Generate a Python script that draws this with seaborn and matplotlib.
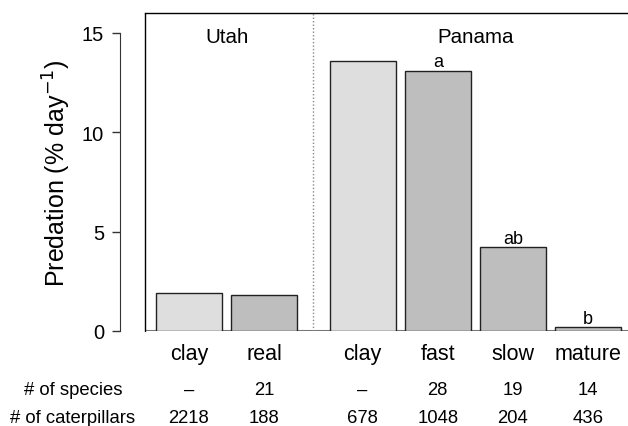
import matplotlib
matplotlib.use("Agg")
import matplotlib.pyplot as plt
import seaborn as sns
import pandas as pd
import numpy as np

# Values
sites = ["Utah", "Utah", "Panama", "Panama", "Panama", "Panama"]
treatments = ["clay", "real", "clay", "fast", "slow", "mature"]
predation = [1.91, 1.80, 13.6, 13.1, 4.21, 0.20]
letters = ["", "", "", "a", "ab", "b"]
n_species = ["\u2013", "21", "\u2013", "28", "19", "14"]
n_caterpillars = ["2218", "188", "678", "1048", "204", "436"]

# bar positions: unit spacing within a site, a wider gap between sites
group_gap = 0.31
pos = []
x = 0.0
for i, s in enumerate(sites):
    if i > 0:
        x += 1.0 + (group_gap if s != sites[i - 1] else 0.0)
    pos.append(x)

df = pd.DataFrame({"pos": pos, "site": sites, "treatment": treatments, "predation": predation})
df["kind"] = np.where(df["treatment"] == "clay", "clay", "real")

sns.set_style("white")
plt.rcParams["font.family"] = ["Liberation Sans", "DejaVu Sans"]
plt.rcParams["text.color"] = "black"
plt.rcParams["axes.labelcolor"] = "black"
plt.rcParams["xtick.color"] = "black"
plt.rcParams["ytick.color"] = "black"

fig = plt.figure(figsize=(6.28, 4.27), dpi=100)
ax = fig.add_axes([145 / 628, 95 / 427, 1 - 145 / 628, 318 / 427])

sns.barplot(data=df, x="pos", y="predation", hue="kind", native_scale=True,
            palette={"clay": "#dedede", "real": "#bebebe"}, width=0.88, dodge=False,
            edgecolor="#222222", linewidth=1.0, legend=False, ax=ax)

ax.set_xlim(pos[0] - 0.585, pos[0] + 5.84)
ax.set_ylim(0, 16.0)

# y axis, detached from the box like base R
ax.spines["left"].set_position(("outward", 18))
ax.spines["left"].set_bounds(0, 15)
ax.spines["left"].set_color("#333333")
ax.spines["right"].set_visible(False)
ax.spines["bottom"].set_visible(False)
ax.spines["top"].set_color("black")
ax.spines["top"].set_linewidth(1.0)
ax.set_yticks([0, 5, 10, 15])
ax.tick_params(axis="y", left=True, length=6, width=1, color="#333333", pad=5.5, labelsize=14.5)
ax.set_ylabel("Predation (% day$^{-1}$)", fontsize=18, labelpad=6)

# box edge, zero line and site divider
ax.axvline(ax.get_xlim()[0], color="black", lw=1.0, clip_on=False)
ax.axhline(0, color="#777777", lw=1.5, zorder=0.5)
divider = (pos[1] + pos[2]) / 2
ax.axvline(divider, color="#888888", lw=1.0, ls=(0, (1, 1.5)))

ax.set_xticks(pos, treatments)
ax.tick_params(axis="x", bottom=False, length=0, pad=9, labelsize=15.5)
ax.set_xlabel("")

# site titles
for site in ["Utah", "Panama"]:
    xs = [p for p, s in zip(pos, sites) if s == site]
    ax.text(np.mean(xs), 14.55, site, ha="center", va="baseline", fontsize=14.8)

# significance letters
for p, v, lab in zip(pos, predation, letters):
    if lab:
        ax.annotate(lab, (p, v), xytext=(0, 3), textcoords="offset points",
                    ha="center", va="baseline", fontsize=13)

# table under the axis
tr = ax.get_xaxis_transform()
for p, sp, cat in zip(pos, n_species, n_caterpillars):
    ax.text(p, -63 / 318, sp, transform=tr, ha="center", va="baseline", fontsize=13.3)
    ax.text(p, -91 / 318, cat, transform=tr, ha="center", va="baseline", fontsize=13.3)
fig.text(73 / 628, 32 / 427, "# of species", ha="center", va="baseline", fontsize=13.3)
fig.text(73 / 628, 4 / 427, "# of caterpillars", ha="center", va="baseline", fontsize=13.3)

fig.savefig("out.png", dpi=100)
